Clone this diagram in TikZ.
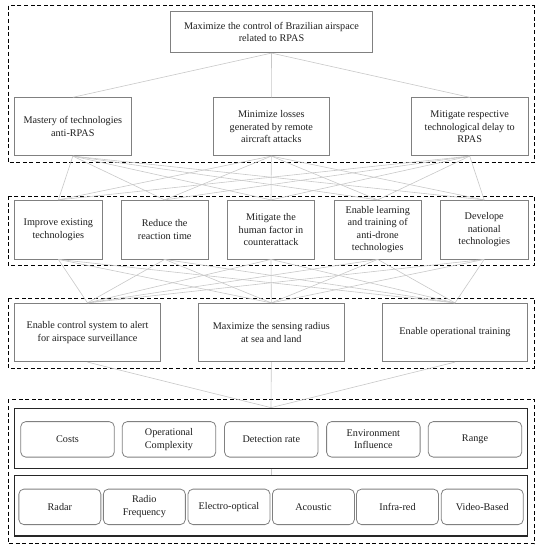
\documentclass[tikz,border=0pt]{standalone}
\usepackage{fontspec}
\setmainfont{Liberation Serif}
\definecolor{boxgray}{HTML}{808080}
\definecolor{linegray}{HTML}{C8C8C8}
\definecolor{txt}{HTML}{1E1E1E}
\begin{document}
\begin{tikzpicture}[x=1pt,y=-1pt,
  every node/.style={font=\fontsize{10.2}{12.6}\selectfont, text=txt, align=center, inner sep=0pt},
  goalbox/.style={draw=boxgray, line width=0.8pt, rectangle},
  critbox/.style={draw=boxgray, line width=0.8pt, rectangle, rounded corners=5pt, minimum height=35.5pt},
  groupbox/.style={draw=black, line width=1pt, dash pattern=on 4pt off 2.6pt},
  panel/.style={draw=black!85, line width=1.3pt, rectangle, minimum width=513.4pt, minimum height=60pt},
  link/.style={draw=linegray, line width=0.6pt}
]
\useasboundingbox (0,0) rectangle (541,550);

% dashed groups
\draw[groupbox] (8.3,5.7) rectangle (534.3,162.7);
\draw[groupbox] (8.3,196) rectangle (534.3,265.7);
\draw[groupbox] (8.3,298.3) rectangle (534.3,368.3);
\draw[groupbox] (8.3,399.3) rectangle (534.3,543.7);

% level 1
\node[goalbox, minimum width=201.6pt, minimum height=41.7pt] (top) at (271.5,31.85) {Maximize the control of Brazilian airspace\\related to RPAS};

% level 2
\tikzset{l2/.style={goalbox, minimum width=116.5pt, minimum height=58pt}}
\node[l2] (a1) at (72.85,126.7) {Mastery of technologies\\anti-RPAS};
\node[l2] (a2) at (271.35,126.7) {Minimize losses\\generated by remote\\aircraft attacks};
\node[l2] (a3) at (469.7,126.7) {Mitigate respective\\technological delay to\\RPAS};

% level 3
\tikzset{l3/.style={goalbox, minimum width=87.5pt, minimum height=58.7pt}}
\node[l3] (b1) at (58.35,229.65) {Improve existing\\technologies};
\node[l3] (b2) at (164.7,229.65) {Reduce the\\reaction time};
\node[l3] (b3) at (271,229.65) {Mitigate the\\human factor in\\counterattack};
\node[l3] (b4) at (377.7,229.65) {Enable learning\\and training of\\anti-drone\\technologies};
\node[l3] (b5) at (484.2,229.65) {Develope\\national\\technologies};

% level 4
\tikzset{l4/.style={goalbox, minimum width=145.6pt, minimum height=58.4pt}}
\node[l4] (c1) at (87.5,332.5) {Enable control system to alert\\for airspace surveillance};
\node[l4] (c2) at (271.35,332.5) {Maximize the sensing radius\\at sea and land};
\node[l4] (c3) at (455,332.5) {Enable operational training};

% panels
\node[panel] (crit) at (271,438.3) {};
\node[panel, minimum height=60.3pt] (sens) at (271,505.85) {};

% criteria
\tikzset{cr/.style={critbox, minimum width=93.5pt}}
\node[cr] (d1) at (67.5,439.35) {Costs};
\node[cr] (d2) at (169,439.35) {Operational\\Complexity};
\node[cr] (d3) at (271.3,439.35) {Detection rate};
\node[cr] (d4) at (373.35,439.35) {Environment\\Influence};
\node[cr] (d5) at (475,439.35) {Range};

% sensors
\tikzset{se/.style={critbox, minimum width=82pt}}
\node[se] (e1) at (59.85,506.85) {Radar};
\node[se] (e2) at (144.35,506.85) {Radio\\Frequency};
\node[se] (e3) at (229,506.85) {Electro-optical};
\node[se] (e4) at (313.4,506.85) {Acoustic};
\node[se] (e5) at (397.5,506.85) {Infra-red};
\node[se] (e6) at (482.3,506.85) {Video-Based};

% connectors
\foreach \t in {a1,a2,a3} \draw[link] (top.south) -- (\t.north);
\foreach \s in {a1,a2,a3} \foreach \t in {b1,b2,b3,b4,b5} \draw[link] (\s.south) -- (\t.north);
\foreach \s in {b1,b2,b3,b4,b5} \foreach \t in {c1,c2,c3} \draw[link] (\s.south) -- (\t.north);
\foreach \s in {c1,c2,c3} \draw[link] (\s.south) -- (crit.north);
\draw[link] (crit.south) -- (sens.north);
\end{tikzpicture}
\end{document}
